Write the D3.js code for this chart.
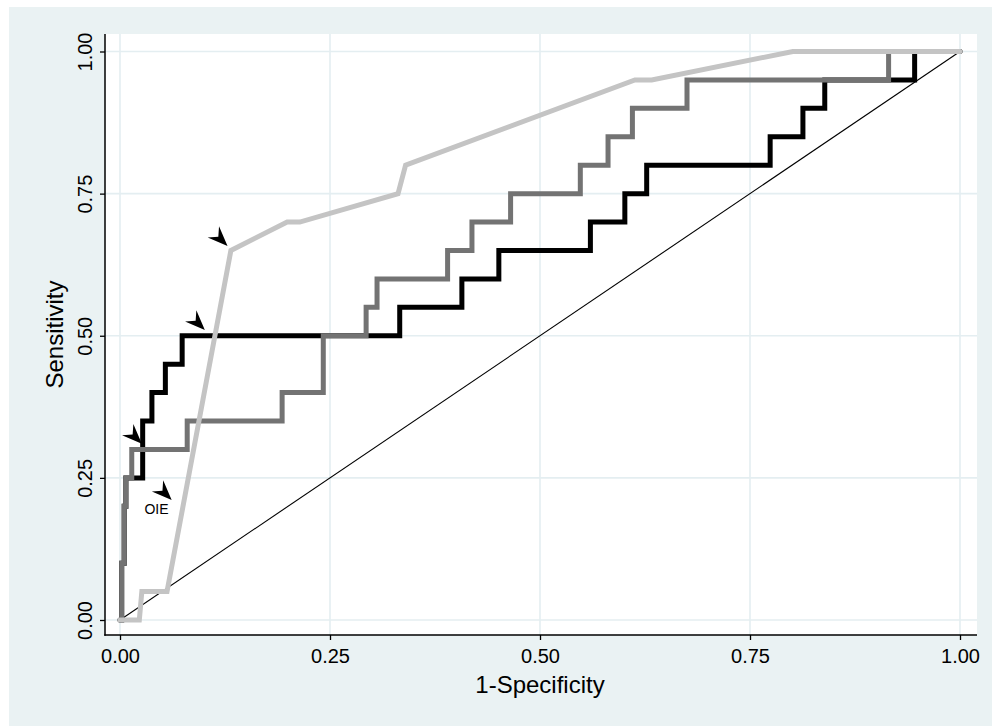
<!DOCTYPE html>
<html>
<head>
<meta charset="utf-8">
<script src="https://cdn.jsdelivr.net/npm/d3@7"></script>
<style>
  body { margin: 0; background: #ffffff; }
  text { font-family: "Liberation Sans", Arial, sans-serif; }
</style>
</head>
<body>
<div id="vis"><svg></svg></div>
<script>
// ROC corners: x = 1-specificity, y = sensitivity
var blackFpr = [0, 0.002, 0.002, 0.005, 0.005, 0.007, 0.007, 0.027, 0.027, 0.038, 0.038, 0.054, 0.054, 0.074, 0.074,
                0.333, 0.333, 0.407, 0.407, 0.451, 0.451, 0.560, 0.560, 0.601, 0.601, 0.627, 0.627, 0.774, 0.774,
                0.813, 0.813, 0.839, 0.839, 0.946, 0.946, 1];
var blackSens = [0, 0, 0.10, 0.10, 0.20, 0.20, 0.25, 0.25, 0.35, 0.35, 0.40, 0.40, 0.45, 0.45, 0.50,
                 0.50, 0.55, 0.55, 0.60, 0.60, 0.65, 0.65, 0.70, 0.70, 0.75, 0.75, 0.80, 0.80, 0.85,
                 0.85, 0.90, 0.90, 0.95, 0.95, 1.00, 1.00];

var grayFpr = [0, 0.002, 0.002, 0.005, 0.005, 0.007, 0.007, 0.014, 0.014, 0.080, 0.080, 0.193, 0.193, 0.242, 0.242,
               0.293, 0.293, 0.306, 0.306, 0.390, 0.390, 0.419, 0.419, 0.465, 0.465, 0.548, 0.548, 0.581, 0.581,
               0.610, 0.610, 0.675, 0.675, 0.915, 0.915, 1];
var graySens = [0, 0, 0.10, 0.10, 0.20, 0.20, 0.25, 0.25, 0.30, 0.30, 0.35, 0.35, 0.40, 0.40, 0.50,
                0.50, 0.55, 0.55, 0.60, 0.60, 0.65, 0.65, 0.70, 0.70, 0.75, 0.75, 0.80, 0.80, 0.85,
                0.85, 0.90, 0.90, 0.95, 0.95, 1.00, 1.00];

var lightFpr = [0, 0.023, 0.026, 0.056, 0.132, 0.199, 0.214, 0.331, 0.340, 0.613, 0.633, 0.801, 1];
var lightSens = [0, 0, 0.05, 0.05, 0.65, 0.70, 0.70, 0.75, 0.80, 0.95, 0.95, 1.00, 1.00];

// arrow markers (tip positions) and the one label
var arrowFpr = [0.128, 0.101, 0.026, 0.0615];
var arrowSens = [0.658, 0.510, 0.310, 0.211];
var labelText = ["OIE"];
var labelFpr = [0.0435];
var labelSens = [0.186];

var tickValues = [0, 0.25, 0.5, 0.75, 1];

var W = 992, H = 726;
var plot = {left: 105, right: 977, top: 34, bottom: 635};

var svg = d3.select("#vis").select("svg")
    .attr("width", W)
    .attr("height", H);

// outer graph region
svg.append("rect")
    .attr("x", 9).attr("y", 7)
    .attr("width", W - 9).attr("height", H - 7)
    .attr("fill", "#eaf2f3");

// plot region
svg.append("rect")
    .attr("x", plot.left).attr("y", plot.top)
    .attr("width", plot.right - plot.left).attr("height", plot.bottom - plot.top)
    .attr("fill", "#ffffff");

var x = d3.scaleLinear().domain([0, 1]).range([120, 960]);
var y = d3.scaleLinear().domain([0, 1]).range([620, 51.5]);

// grid
svg.append("g").selectAll("line.h")
    .data(tickValues).join("line")
    .attr("x1", plot.left).attr("x2", plot.right)
    .attr("y1", d => y(d)).attr("y2", d => y(d))
    .attr("stroke", "#e4eef1").attr("stroke-width", 1.6);
svg.append("g").selectAll("line.v")
    .data(tickValues).join("line")
    .attr("y1", plot.top).attr("y2", plot.bottom)
    .attr("x1", d => x(d)).attr("x2", d => x(d))
    .attr("stroke", "#e4eef1").attr("stroke-width", 1.6);

// axes
var gx = svg.append("g")
    .attr("transform", "translate(0," + plot.bottom + ")")
    .call(d3.axisBottom(x).tickValues(tickValues).tickFormat(d3.format(".2f")).tickSize(5));
gx.select(".domain").remove();
gx.selectAll("text").attr("y", 28).attr("dy", 0)
    .style("font-size", "20px").attr("fill", "#000");
gx.selectAll("line").attr("stroke-width", 1.3);

var gy = svg.append("g")
    .attr("transform", "translate(" + plot.left + ",0)")
    .call(d3.axisLeft(y).tickValues(tickValues).tickFormat(d3.format(".2f")).tickSize(5));
gy.select(".domain").remove();
gy.selectAll("text")
    .attr("transform", "rotate(-90)")
    .attr("x", 0).attr("y", -13).attr("dy", 0)
    .style("text-anchor", "middle")
    .style("font-size", "20px").attr("fill", "#000");
gy.selectAll("line").attr("stroke-width", 1.3);

svg.append("line")
    .attr("x1", plot.left).attr("x2", plot.left)
    .attr("y1", plot.top).attr("y2", plot.bottom + 0.7)
    .attr("stroke", "#000").attr("stroke-width", 1.5);
svg.append("line")
    .attr("x1", plot.left - 0.7).attr("x2", plot.right)
    .attr("y1", plot.bottom).attr("y2", plot.bottom)
    .attr("stroke", "#000").attr("stroke-width", 1.5);

// axis titles
svg.append("text")
    .attr("x", 540).attr("y", 693)
    .attr("text-anchor", "middle")
    .style("font-size", "24px")
    .text("1-Specificity");
svg.append("text")
    .attr("transform", "translate(63," + ((plot.top + plot.bottom) / 2) + ") rotate(-90)")
    .attr("text-anchor", "middle")
    .style("font-size", "24px")
    .text("Sensitivity");

// reference line
svg.append("line")
    .attr("x1", x(0)).attr("y1", y(0))
    .attr("x2", x(1)).attr("y2", y(1))
    .attr("stroke", "#000").attr("stroke-width", 1.1);

var line = d3.line()
    .x(d => x(d[0]))
    .y(d => y(d[1]));

function series(fpr, sens, color) {
    svg.append("path")
        .datum(d3.zip(fpr, sens))
        .attr("fill", "none")
        .attr("stroke", color)
        .attr("stroke-width", 5)
        .attr("stroke-linejoin", "miter")
        .attr("stroke-linecap", "round")
        .attr("d", line);
}
series(blackFpr, blackSens, "#000000");
series(grayFpr, graySens, "#737373");
series(lightFpr, lightSens, "#c4c4c4");

// arrowheads, pointing down-right
var arrow = "M0,0 L-20,-8 L-13,0 L-20,8 Z";
svg.append("g").selectAll("path")
    .data(d3.zip(arrowFpr, arrowSens)).join("path")
    .attr("d", arrow)
    .attr("transform", d => "translate(" + x(d[0]) + "," + y(d[1]) + ") rotate(45)")
    .attr("fill", "#000");

svg.append("g").selectAll("text")
    .data(d3.zip(labelFpr, labelSens, labelText)).join("text")
    .attr("x", d => x(d[0])).attr("y", d => y(d[1]))
    .attr("text-anchor", "middle")
    .style("font-size", "14px")
    .text(d => d[2]);
</script>
</body>
</html>
